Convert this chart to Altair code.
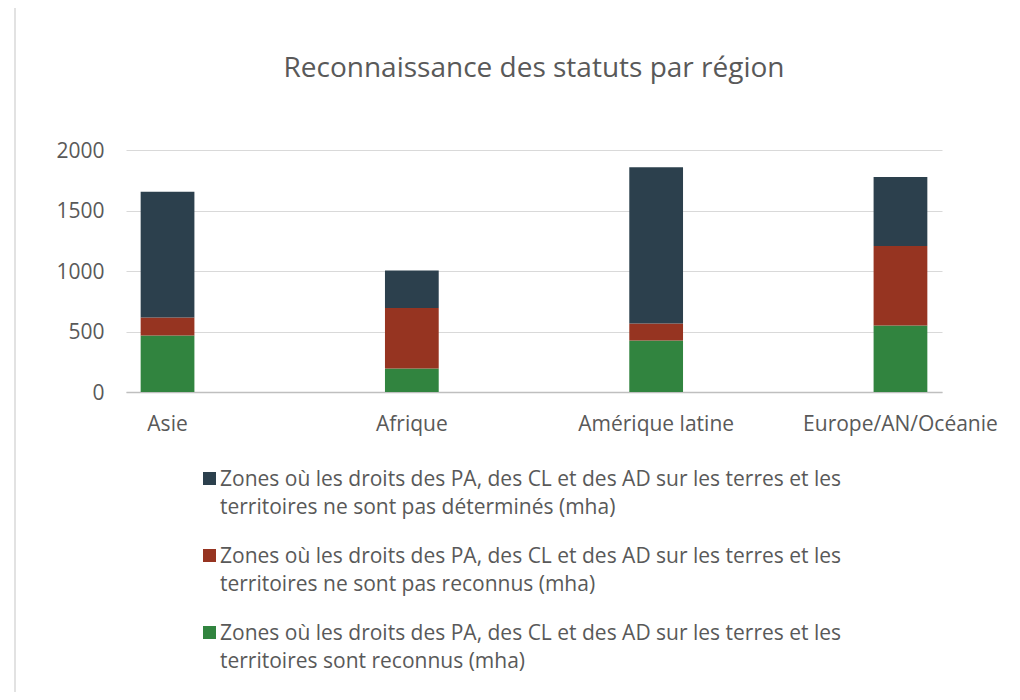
import altair as alt
import pandas as pd

regions = ["Asie", "Afrique", "Amérique latine", "Europe/AN/Océanie"]
series = [
    "Zones où les droits des PA, des CL et des AD sur les terres et les\nterritoires ne sont pas déterminés (mha)",
    "Zones où les droits des PA, des CL et des AD sur les terres et les\nterritoires ne sont pas reconnus (mha)",
    "Zones où les droits des PA, des CL et des AD sur les terres et les\nterritoires sont reconnus (mha)",
]
undetermined = [1039, 310, 1291, 571]
not_recognized = [149, 501, 141, 657]
recognized = [467, 194, 425, 549]
colors = ["#2c404d", "#963421", "#31843f"]

rows = []
for values, name, rank in [(recognized, series[2], 0), (not_recognized, series[1], 1), (undetermined, series[0], 2)]:
    for r, v in zip(regions, values):
        rows.append({"region": r, "value": v, "series": name, "rank": rank})
df = pd.DataFrame(rows)

FONT = "Open Sans"
GREY = "#595959"

bars = alt.Chart(df).mark_bar().encode(
    x=alt.X("region:N", sort=regions,
            scale=alt.Scale(paddingInner=0.78, paddingOuter=0.06),
            axis=alt.Axis(title=None, labelAngle=0, labelFont=FONT, labelFontSize=21,
                          labelColor=GREY, labelPadding=14, ticks=False, labelLimit=400,
                          domainColor="#bfbfbf", domainWidth=1.5)),
    y=alt.Y("value:Q", stack="zero",
            scale=alt.Scale(domain=[0, 2000]),
            axis=alt.Axis(title=None, values=[0, 500, 1000, 1500, 2000], format="d",
                          labelFont=FONT, labelFontSize=21, labelColor=GREY,
                          labelPadding=22, labelOffset=-6, ticks=False,
                          domain=False, gridColor="#d9d9d9", gridWidth=1)),
    color=alt.Color("series:N", sort=series,
                    scale=alt.Scale(domain=series, range=colors),
                    legend=alt.Legend(title=None, orient="none", legendX=73, legendY=318,
                                      direction="vertical", symbolType="square",
                                      symbolSize=169, symbolStrokeWidth=0,
                                      labelExpr="split(datum.label, '\\n')",
                                      labelFont=FONT, labelFontSize=21, labelColor=GREY,
                                      labelLimit=900, labelOffset=0, rowPadding=27,
                                      labelBaseline="alphabetic")),
    order=alt.Order("rank:Q"),
)

frame = alt.Chart(pd.DataFrame({"a": [0]})).mark_rect(
    fill=None, stroke="#d9d9d9", strokeWidth=1.5
).encode(
    x=alt.value(-111), x2=alt.value(1000), y=alt.value(-145), y2=alt.value(700)
)

chart = alt.layer(frame, bars).properties(
    width=816,
    height=242,
    autosize=alt.AutoSizeParams(type="none"),
    padding={"left": 118, "top": 142, "right": 70, "bottom": 300},
    title=alt.TitleParams("Reconnaissance des statuts par région", font=FONT, fontSize=28,
                          fontWeight="normal", color=GREY, anchor="middle",
                          baseline="alphabetic", offset=-101),
).configure(
    style={"guide-label": {"lineHeight": 28, "dy": 7}}
).configure_view(stroke=None)

chart.save("out.html", embed_options={"renderer": "svg", "actions": False})
